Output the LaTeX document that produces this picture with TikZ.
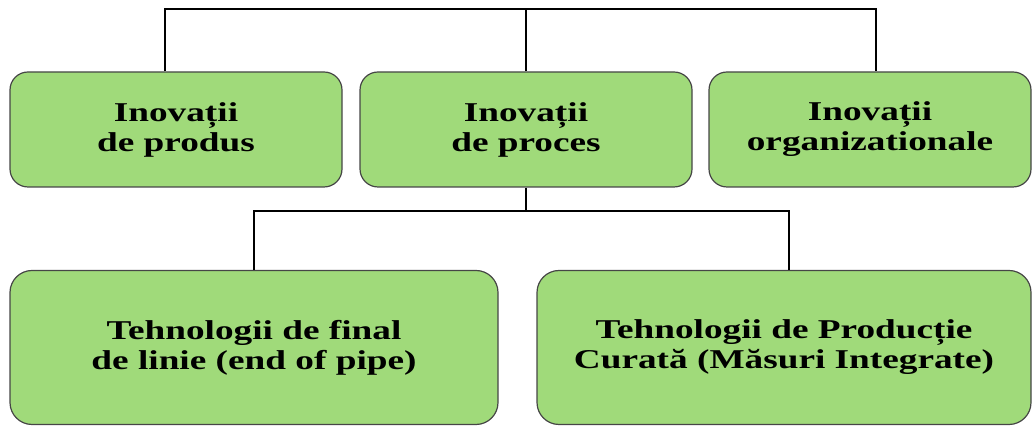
\documentclass[tikz,border=0pt]{standalone}
\usepackage{fontspec}
\setmainfont[FakeStretch=1.37]{Liberation Serif}
\usetikzlibrary{calc}
\definecolor{boxgreen}{RGB}{160,218,122}
\definecolor{boxedge}{RGB}{70,70,70}

\tikzset{
  inobox/.style={draw=boxedge, line width=0.6pt, fill=boxgreen, rounded corners=9pt,
    align=center, inner sep=0pt, minimum height=57.5pt,
    font=\bfseries\fontsize{13.6}{15}\selectfont},
  tehbox/.style={inobox, rounded corners=11pt, minimum height=77pt},
  link/.style={line width=1pt, black}
}

\begin{document}
\begin{tikzpicture}[x=0.5pt,y=-0.5pt]
\useasboundingbox (0,0) rectangle (1033,426);
\coordinate (top) at (526,9);
\coordinate (mid) at (526,211);
% innovation types
\node[inobox, minimum width=166pt] (prod) at (176,129.5) {Inovații\\de produs};
\node[inobox, minimum width=166pt] (proc) at (526,129.5) {Inovații\\de proces};
\node[inobox, minimum width=161pt] (org) at (870,129.5) {Inovații\\organizationale};
% process technologies
\node[tehbox, minimum width=244pt] (eop) at (254,347.5) {Tehnologii de final\\de linie (end of pipe)};
\node[tehbox, minimum width=247pt] (pc) at (784,347.5) {Tehnologii de Producție\\Curată (Măsuri Integrate)};
% connectors
\draw[link] ($(prod.north)+(-11,0)$) |- (top) -| ($(org.north)+(6,0)$);
\draw[link] (proc.north) -- (top);
\draw[link] (proc.south) -- (mid);
\draw[link] (eop.north) |- (mid) -| ($(pc.north)+(5,0)$);
\end{tikzpicture}
\end{document}
